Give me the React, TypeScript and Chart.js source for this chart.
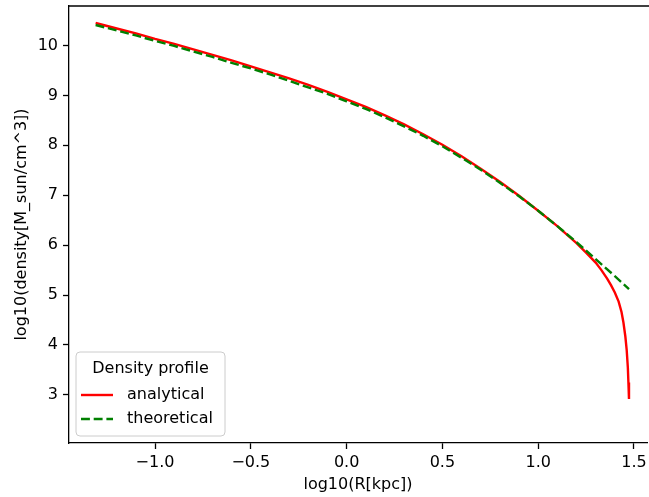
import React, { useEffect, useRef } from "react";
import { Chart, registerables } from "chart.js";

Chart.register(...registerables);

// ---- data ----
const analyticalX = [
  -1.31, -1.2, -1.1, -1.0, -0.9, -0.8, -0.7, -0.6, -0.5, -0.4, -0.3, -0.2, -0.1,
  0.0, 0.1, 0.2, 0.3, 0.4, 0.5, 0.6, 0.7, 0.8, 0.9, 1.0, 1.1, 1.15, 1.2, 1.25,
  1.3, 1.33, 1.36, 1.38, 1.4, 1.42, 1.435, 1.445, 1.455, 1.462, 1.468, 1.471, 1.474,
];
const analyticalY = [
  10.45, 10.34, 10.24, 10.13, 10.03, 9.92, 9.81, 9.7, 9.58, 9.46, 9.34, 9.21, 9.07,
  8.92, 8.77, 8.6, 8.42, 8.22, 8.01, 7.78, 7.53, 7.27, 6.99, 6.69, 6.38, 6.21, 6.04, 5.85,
  5.65, 5.5, 5.33, 5.2, 5.05, 4.87, 4.66, 4.45, 4.17, 3.9, 3.55, 3.25, 2.92,
];
const theoreticalX = [
  -1.31, -1.2, -1.1, -1.0, -0.9, -0.8, -0.7, -0.6, -0.5, -0.4, -0.3, -0.2, -0.1,
  0.0, 0.1, 0.2, 0.3, 0.4, 0.5, 0.6, 0.7, 0.8, 0.9, 1.0, 1.1, 1.2, 1.3, 1.4, 1.474,
];
const theoreticalY = [
  10.41, 10.3, 10.2, 10.09, 9.99, 9.88, 9.77, 9.65, 9.54, 9.42, 9.29, 9.16, 9.03,
  8.88, 8.73, 8.56, 8.38, 8.19, 7.98, 7.75, 7.51, 7.25, 6.98, 6.69, 6.38, 6.06, 5.72, 5.38, 5.12,
];
const xTickValues = [-1.0, -0.5, 0.0, 0.5, 1.0, 1.5];
const yTickValues = [3, 4, 5, 6, 7, 8, 9, 10];
const seriesNames = ["analytical", "theoretical"];
const legendTitle = "Density profile";
const xTitle = "log10(R[kpc])";
const yTitle = "log10(density[M_sun/cm^3])";

const FONT = '"DejaVu Sans", "Liberation Sans", sans-serif';
const FS = 16;

const toPoints = (xs: number[], ys: number[]) => xs.map((x, i) => ({ x, y: ys[i] }));

const fmtX = (v: number) => {
  const s = Math.abs(v).toFixed(1);
  return v < -1e-9 ? "\u2212" + s : s;
};

const framePlugin = {
  id: "mplFrame",
  afterDatasetsDraw(chart: any) {
    const { ctx, chartArea: a } = chart;
    ctx.save();
    ctx.strokeStyle = "#000";
    ctx.lineWidth = 1.3;
    ctx.beginPath();
    ctx.moveTo(a.left - 0.65, a.top);
    ctx.lineTo(a.right + 5, a.top);
    ctx.stroke();
    ctx.restore();
  },
};

const legendPlugin = {
  id: "mplLegend",
  afterDraw(chart: any) {
    const { ctx, chartArea: a } = chart;
    const w = 149;
    const h = 84;
    const x0 = a.left + 7;
    const y0 = a.bottom - 7 - h;
    const r = 4;
    ctx.save();
    ctx.beginPath();
    ctx.moveTo(x0 + r, y0);
    ctx.lineTo(x0 + w - r, y0);
    ctx.arcTo(x0 + w, y0, x0 + w, y0 + r, r);
    ctx.lineTo(x0 + w, y0 + h - r);
    ctx.arcTo(x0 + w, y0 + h, x0 + w - r, y0 + h, r);
    ctx.lineTo(x0 + r, y0 + h);
    ctx.arcTo(x0, y0 + h, x0, y0 + h - r, r);
    ctx.lineTo(x0, y0 + r);
    ctx.arcTo(x0, y0, x0 + r, y0, r);
    ctx.closePath();
    ctx.fillStyle = "rgba(255,255,255,0.8)";
    ctx.fill();
    ctx.strokeStyle = "#cccccc";
    ctx.lineWidth = 1;
    ctx.stroke();

    ctx.font = `${FS}px ${FONT}`;
    ctx.fillStyle = "#000";
    ctx.textBaseline = "middle";
    ctx.textAlign = "center";
    ctx.fillText(legendTitle, x0 + w / 2, y0 + 17);

    ctx.textAlign = "left";
    seriesNames.forEach((name, i) => {
      const ds = chart.data.datasets.find((d: any) => d.label === name);
      if (!ds) return;
      const y = y0 + 43 + i * 24;
      ctx.save();
      ctx.strokeStyle = ds.borderColor;
      ctx.lineWidth = ds.borderWidth;
      ctx.setLineDash(ds.borderDash || []);
      ctx.beginPath();
      ctx.moveTo(x0 + 5, y);
      ctx.lineTo(x0 + 37, y);
      ctx.stroke();
      ctx.restore();
      ctx.fillStyle = "#000";
      ctx.fillText(name, x0 + 51, y);
    });
    ctx.restore();
  },
};

export default function App() {
  const ref = useRef<HTMLCanvasElement | null>(null);

  useEffect(() => {
    if (!ref.current) return;
    const chart = new Chart(ref.current, {
      type: "line",
      data: {
        datasets: [
          {
            label: seriesNames[0],
            data: toPoints(analyticalX, analyticalY),
            borderColor: "#ff0000",
            borderWidth: 2.4,
            pointRadius: 0,
            fill: false,
            tension: 0,
            order: 2,
          },
          {
            label: seriesNames[1],
            data: toPoints(theoreticalX, theoreticalY),
            borderColor: "#008000",
            borderWidth: 2.4,
            borderDash: [8.9, 3.8],
            pointRadius: 0,
            fill: false,
            tension: 0,
            order: 1,
          },
        ],
      },
      options: {
        responsive: false,
        animation: false,
        parsing: true,
        layout: { padding: { top: 6, right: 2, left: 0, bottom: 0 } },
        plugins: {
          legend: { display: false },
          tooltip: { enabled: false },
        },
        scales: {
          x: {
            type: "linear",
            min: -1.449,
            max: 1.568,
            afterBuildTicks: (s: any) => {
              s.ticks = xTickValues.map((v) => ({ value: v }));
            },
            afterFit: (s: any) => {
              s.height = 54;
              s.paddingLeft = 0;
              s.paddingRight = 0;
            },
            grid: {
              drawOnChartArea: false,
              drawTicks: true,
              tickLength: 6,
              tickWidth: 1.3,
              tickColor: "#000",
            },
            border: { display: true, color: "#000", width: 1.3 },
            ticks: {
              color: "#000",
              font: { family: FONT, size: FS },
              padding: 4,
              maxRotation: 0,
              autoSkip: false,
              callback: (v: any) => fmtX(Number(v)),
            },
            title: {
              display: true,
              text: xTitle,
              color: "#000",
              font: { family: FONT, size: FS, lineHeight: 1.2 },
              padding: { top: 0, bottom: 2.4 },
            },
          },
          y: {
            type: "linear",
            min: 2.037,
            max: 10.79,
            afterBuildTicks: (s: any) => {
              s.ticks = yTickValues.map((v) => ({ value: v }));
            },
            afterFit: (s: any) => {
              s.width = 69;
              s.paddingTop = 0;
              s.paddingBottom = 0;
            },
            grid: {
              drawOnChartArea: false,
              drawTicks: true,
              tickLength: 6,
              tickWidth: 1.3,
              tickColor: "#000",
            },
            border: { display: true, color: "#000", width: 1.3 },
            ticks: {
              color: "#000",
              font: { family: FONT, size: FS },
              padding: 5,
              autoSkip: false,
              callback: (v: any) => String(Number(v)),
            },
            title: {
              display: true,
              text: yTitle,
              color: "#000",
              font: { family: FONT, size: FS, lineHeight: 1.2 },
              padding: { top: 12.4, bottom: 0 },
            },
          },
        },
      },
      plugins: [framePlugin, legendPlugin],
    });
    return () => chart.destroy();
  }, []);

  return (
    <div
      style={{
        position: "fixed",
        left: 0,
        top: 0,
        width: 649,
        height: 497,
        background: "#fff",
      }}
    >
      <canvas ref={ref} width={649} height={497} style={{ display: "block" }} />
    </div>
  );
}
